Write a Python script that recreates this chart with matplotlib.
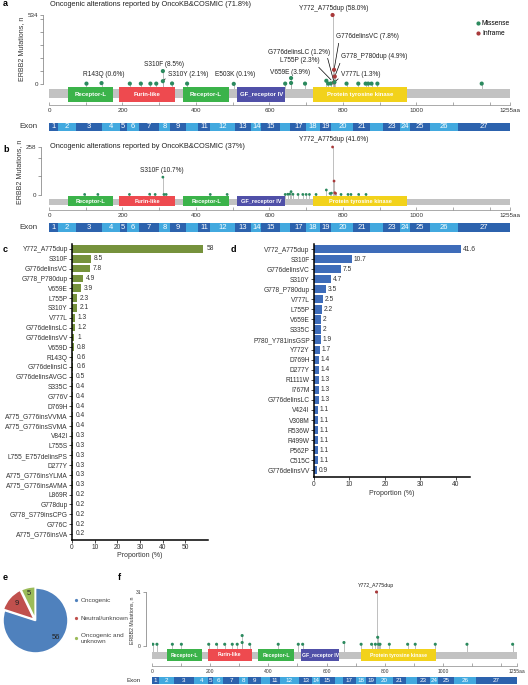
import numpy as np
import matplotlib
matplotlib.use("Agg")
import matplotlib.pyplot as plt
from matplotlib.lines import Line2D

plt.rcParams['font.family'] = ['Liberation Sans', 'DejaVu Sans']

W, H = 528, 685

# ---------------- data ----------------
domain_names = ['Receptor-L', 'Furin-like', 'Receptor-L', 'GF_receptor IV', 'Protein tyrosine kinase']
domain_start = [52, 191, 366, 513, 720]
domain_end = [173, 343, 489, 643, 975]
domain_colors = ['#3bb34a', '#ee4a4f', '#3bb34a', '#5050a8', '#f2d21b']

exon_bounds = [0, 25, 74, 145, 193, 211, 245, 300, 329, 374, 406, 439, 506, 551,
               578, 628, 656, 701, 737, 769, 828, 875, 910, 955, 984, 1037, 1114, 1255]
exon_labels = ['1', '2', '3', '4', '5', '6', '7', '8', '9', '', '11', '12', '13', '14',
               '15', '', '17', '18', '19', '20', '21', '', '23', '24', '25', '26', '27']

# panel a: position (aa), count, kind (M = missense, I = inframe)
a_pos = [102, 143, 220, 250, 276, 292, 310, 310, 335, 376, 503, 643, 659, 659, 697,
         755, 760, 767, 772, 776, 776, 777, 778, 810, 842, 862, 869, 878, 894, 1178]
a_cnt = [3, 7, 3, 3, 3, 3, 22, 100, 4, 3, 1, 3, 8, 46, 3,
         25, 3, 4, 534, 110, 13, 14, 58, 3, 3, 3, 3, 3, 3, 3]
a_kind = ['M'] * 18 + ['I', 'I', 'I', 'M', 'I'] + ['M'] * 7

# panel b
b_pos = [97, 133, 219, 274, 289, 310, 313, 319, 439, 485, 643, 650, 655, 659, 664, 678,
         691, 700, 709, 727, 755, 765, 769, 772, 776, 778, 780, 795, 814, 822, 843, 863]
b_cnt = [3, 3, 3, 4, 3, 96, 3, 3, 3, 3, 3, 4, 5, 18, 4, 3,
         3, 3, 3, 3, 27, 8, 10, 258, 75, 12, 9, 3, 3, 3, 3, 3]
b_kind = ['M'] * 23 + ['I', 'I', 'I', 'I'] + ['M'] * 5

# panel f
f_pos = [3, 17, 70, 101, 195, 222, 250, 276, 293, 310, 310, 336, 434, 503, 518,
         660, 719, 755, 768, 772, 776, 779, 784, 816, 879, 905, 974, 1083, 1240]
f_cnt = [1, 1, 1, 1, 1, 1, 1, 1, 1, 2, 6, 1, 1, 1, 1,
         2, 1, 1, 1, 31, 5, 1, 1, 1, 1, 1, 1, 1, 1]
f_kind = ['M'] * 19 + ['I', 'M'] + ['M'] * 8

c_names = ['Y772_A775dup', 'S310F', 'G776delinsVC', 'G778_P780dup', 'V659E', 'L755P',
           'S310Y', 'V777L', 'G776delinsLC', 'G776delinsVV', 'V659D', 'R143Q',
           'G776delinsIC', 'G776delinsAVGC', 'S335C', 'G776V', 'D769H',
           'A775_G776insVVMA', 'A775_G776insSVMA', 'V842I', 'L755S', 'L755_E757delinsPS',
           'D277Y', 'A775_G776insYLMA', 'A775_G776insAVMA', 'L869R', 'G778dup',
           'G778_S779insCPG', 'G776C', 'A775_G776insVA']
c_vals = [58, 8.5, 7.8, 4.9, 3.9, 2.3, 2.1, 1.3, 1.2, 1, 0.8, 0.6, 0.6, 0.5, 0.4, 0.4,
          0.4, 0.4, 0.4, 0.3, 0.3, 0.3, 0.3, 0.3, 0.3, 0.2, 0.2, 0.2, 0.2, 0.2]

d_names = ['V772_A775dup', 'S310F', 'G776delinsVC', 'S310Y', 'G778_P780dup', 'V777L',
           'L755P', 'V659E', 'S335C', 'P780_Y781insGSP', 'Y772Y', 'D769H', 'D277Y',
           'R1111W', 'I767M', 'G776delinsLC', 'V424I', 'V308M', 'R536W', 'R499W',
           'P562P', 'C515C', 'G776delinsVV']
d_vals = [41.6, 10.7, 7.5, 4.7, 3.5, 2.5, 2.2, 2, 2, 1.9, 1.7, 1.4, 1.4, 1.3, 1.3, 1.3,
          1.1, 1.1, 1.1, 1.1, 1.1, 1.1, 0.9]

e_labels = ['Oncogenic', 'Neutral/unknown', 'Oncogenic and\nunknown']
e_counts = [56, 9, 5]

MIS = '#2b8a5e'
INF = '#a8393a'
STEM = '#a5a5a5'
BACK = '#c2c2c2'
EX_DARK = '#2c62ad'
EX_LIGHT = '#42a9df'

fig = plt.figure(figsize=(W / 100, H / 100), dpi=100)


def px_ax(l, t, r, b):
    return fig.add_axes([l / W, 1 - b / H, (r - l) / W, (b - t) / H])


def lollipop(box, top_px, zero_px, ymax, bar, dom, pos, cnt, kind, dot, fs, out, tfs):
    l, t, r, b = box
    ax = px_ax(l, t, r, b)
    k = ymax / (zero_px - top_px)

    def cy(py):
        return (zero_px - py) * k

    def cx(px):
        return (px - l) / (r - l) * 1255

    ax.set_xlim(0, 1255)
    ax.set_ylim(cy(b), cy(t))
    ax.barh(cy(sum(bar) / 2), 1255, left=0, height=(bar[1] - bar[0]) * k,
            color=BACK, zorder=1)
    for name, s, e, c in zip(domain_names, domain_start, domain_end, domain_colors):
        ax.barh(cy(sum(dom) / 2), e - s, left=s, height=(dom[1] - dom[0]) * k,
                color=c, zorder=2)
        ax.text((s + e) / 2, cy(sum(dom) / 2), name, color='white', fontsize=fs,
                fontweight='bold', ha='center', va='center', zorder=3)
    cols = [MIS if kk == 'M' else INF for kk in kind]
    ax.vlines(pos, cy(bar[0]), cnt, color=STEM, lw=0.5, zorder=0)
    ax.scatter(pos, cnt, s=dot, c=cols, zorder=4, linewidths=0)

    for sp in ['top', 'right']:
        ax.spines[sp].set_visible(False)
    ax.spines['left'].set_position(('outward', out))
    ax.spines['left'].set_bounds(0, ymax)
    ax.spines['left'].set_color('#777')
    ax.spines['left'].set_linewidth(0.5)
    ax.set_yticks([0, ymax])
    ax.set_yticks(np.arange(100, ymax, 100 if ymax > 100 else 5), minor=True)
    ax.spines['bottom'].set_color('#888')
    ax.spines['bottom'].set_linewidth(0.5)
    xt = list(range(0, 1201, 100)) + [1255]
    ax.set_xticks(xt)
    ax.set_xticklabels([str(v) if v in (0, 200, 400, 600, 800, 1000) else
                        ('1255aa' if v == 1255 else '') for v in xt])
    ax.tick_params(axis='x', direction='in', length=2.5, width=0.5, pad=2,
                   labelsize=tfs, colors='#888', labelcolor='#333')
    ax.tick_params(axis='y', which='both', length=2, width=0.5, pad=1.5,
                   labelsize=tfs, colors='#777', labelcolor='#333')
    ax.set_facecolor('none')
    return ax, cx, cy


def exon_row(box, fs, lfs, off):
    ax = px_ax(*box)
    for i in range(len(exon_labels)):
        s, e = exon_bounds[i], exon_bounds[i + 1]
        ax.barh(0, e - s, left=s, height=1, color=EX_DARK if i % 2 == 0 else EX_LIGHT, lw=0)
        if exon_labels[i]:
            ax.text((s + e) / 2, 0, exon_labels[i], color='white', fontsize=fs,
                    ha='center', va='center')
    ax.set_xlim(0, 1255)
    ax.set_ylim(-0.5, 0.5)
    ax.axis('off')
    ax.annotate('Exon', xy=(0, 0.5), xycoords='axes fraction', xytext=(-off, 0),
                textcoords='offset points', ha='right', va='center', fontsize=lfs,
                color='#333')


# ---------------- panel a ----------------
fig.text(3 / W, 1 - 3 / H, 'a', fontsize=6.5, fontweight='bold', va='center')
fig.text(50 / W, 1 - 4 / H, 'Oncogenic alterations reported by OncoKB&COSMIC (71.8%)',
         fontsize=5.3, va='center', color='#222')
ax, cx, cy = lollipop((49, 10, 510, 105), 15, 84, 534, (89, 98), (87, 102),
                      a_pos, a_cnt, a_kind, 9, 4.3, 4, 4.5)
fig.text(22 / W, 1 - 49 / H, 'ERBB2 Mutations, n', rotation=90, fontsize=5,
         ha='center', va='center', color='#333')
lab = dict(fontsize=4.7, color='#222')
line = dict(arrowstyle='-', color='k', lw=0.5, shrinkA=0, shrinkB=1.5)
ax.text(cx(334), cy(8), 'Y772_A775dup (58.0%)', ha='center', va='center', **lab)
ax.text(cx(164), cy(64), 'S310F (8.5%)', ha='center', va='center', **lab)
ax.text(cx(104), cy(74), 'R143Q (0.6%)', ha='center', va='center', **lab)
ax.text(cx(235), cy(74), 'E503K (0.1%)', ha='center', va='center', **lab)
ax.text(cx(290), cy(72), 'V659E (3.9%)', ha='center', va='center', **lab)
ax.annotate('S310Y (2.1%)', xy=(310, 22), xytext=(cx(168), cy(74)), ha='left',
            va='center', arrowprops=dict(relpos=(0, 0.2), **line), **lab)
ax.annotate('G776delinsVC (7.8%)', xy=(776, 110), xytext=(cx(336), cy(37)), ha='left',
            va='center', arrowprops=dict(relpos=(0.05, 0), **line), **lab)
ax.annotate('G776delinsLC (1.2%)', xy=(776, 13), xytext=(cx(330), cy(52)), ha='right',
            va='center', arrowprops=dict(relpos=(0.95, 0), **line), **lab)
ax.annotate('L755P (2.3%)', xy=(772, 20), xytext=(cx(320), cy(61)), ha='right',
            va='center', arrowprops=dict(relpos=(0.9, 0), **line), **lab)
ax.annotate('G778_P780dup (4.9%)', xy=(778, 58), xytext=(cx(341), cy(57)), ha='left',
            va='center', arrowprops=dict(relpos=(0, 0), **line), **lab)
ax.annotate('V777L (1.3%)', xy=(777, 14), xytext=(cx(341), cy(75)), ha='left',
            va='center', arrowprops=dict(relpos=(0, 0.3), **line), **lab)
handles = [Line2D([], [], marker='o', ls='', color=MIS, ms=2),
           Line2D([], [], marker='o', ls='', color=INF, ms=2)]
fig.legend(handles, ['Missense', 'Inframe'], loc='upper left',
           bbox_to_anchor=(476 / W, 1 - 20 / H), frameon=False, fontsize=4.8,
           handlelength=0.6, handletextpad=0.3, labelspacing=0.5, borderpad=0,
           borderaxespad=0)
exon_row((49, 123, 510, 131), 5.5, 5.8, 8)

# ---------------- panel b ----------------
fig.text(3 / W, 1 - 150 / H, 'b', fontsize=6.5, fontweight='bold', va='center')
fig.text(50 / W, 1 - 147 / H, 'Oncogenic alterations reported by OncoKB&COSMIC (37%)',
         fontsize=5.3, va='center', color='#222')
ax, cx, cy = lollipop((49, 141, 510, 210), 147, 195, 258, (199, 204.5), (196, 206),
                      b_pos, b_cnt, b_kind, 4, 4.1, 6, 4.5)
fig.text(20 / W, 1 - 172 / H, 'ERBB2 Mutations, n', rotation=90, fontsize=5,
         ha='center', va='center', color='#333')
ax.text(cx(334), cy(139), 'Y772_A775dup (41.6%)', ha='center', va='center', **lab)
ax.text(cx(162), cy(170), 'S310F (10.7%)', ha='center', va='center', **lab)
exon_row((49, 223, 510, 232), 5.5, 5.8, 8)

# ---------------- panel c ----------------
fig.text(3 / W, 1 - 250 / H, 'c', fontsize=6.5, fontweight='bold', va='center')
ax = px_ax(72, 244, 208, 540)
yc = np.arange(len(c_names))
ax.barh(yc, c_vals, height=0.78, color='#76923c')
for yi, v in zip(yc, c_vals):
    ax.text(v + 1.3, yi, f'{v:g}', va='center', fontsize=4.8, color='#333')
ax.set_ylim(len(c_names) - 1 + 0.62, -0.5)
ax.set_xlim(0, 60)
ax.set_yticks(yc)
ax.set_yticklabels(c_names)
ax.set_xticks(range(0, 51, 10))
ax.set_xlabel('Proportion (%)', fontsize=5, labelpad=0.5, color='#333')

# ---------------- panel d ----------------
fig.text(231 / W, 1 - 250 / H, 'd', fontsize=6.5, fontweight='bold', va='center')
ax2 = px_ax(314, 244, 470, 477)
yd = np.arange(len(d_names))
ax2.barh(yd, d_vals, height=0.82, color='#3e6cb9')
for yi, v in zip(yd, d_vals):
    ax2.text(v + 0.5, yi, f'{v:g}', va='center', fontsize=4.8, color='#333')
ax2.set_ylim(len(d_names) - 1 + 0.66, -0.5)
ax2.set_xlim(0, 44)
ax2.set_yticks(yd)
ax2.set_yticklabels(d_names)
ax2.set_xticks(range(0, 41, 10))
ax2.set_xlabel('Proportion (%)', fontsize=5, labelpad=1.5, color='#333')

for a_ in (ax, ax2):
    for sp in ['top', 'right']:
        a_.spines[sp].set_visible(False)
    for sp in ['left', 'bottom']:
        a_.spines[sp].set_linewidth(1.1)
    a_.tick_params(length=2, width=0.5, pad=1, labelsize=4.8, labelcolor='#333')

# ---------------- panel e ----------------
fig.text(3 / W, 1 - 578 / H, 'e', fontsize=6.5, fontweight='bold', va='center')
ax = px_ax(1, 586, 70, 655)
pie_cols = ['#4f81bd', '#c0504d', '#9bbb59']
ax.pie(e_counts, colors=pie_cols, startangle=90, counterclock=False,
       explode=[0, 0.05, 0.04], wedgeprops=dict(edgecolor='white', linewidth=1.2))
ax.set_xlim(-1.06, 1.06)
ax.set_ylim(-1.06, 1.06)
ax.set_aspect('equal')
for val, ang, rr in zip(e_counts, [-40, 139, 103], [0.82, 0.78, 0.84]):
    ax.text(rr * np.cos(np.radians(ang)), rr * np.sin(np.radians(ang)), str(val),
            ha='center', va='center', fontsize=5.5, color='#222')
handles = [Line2D([], [], marker='o', ls='', color=c, ms=1.3) for c in pie_cols]
fig.legend(handles, e_labels, loc='upper left', bbox_to_anchor=(75 / W, 1 - 598 / H),
           frameon=False, fontsize=4.6, handlelength=0.4, handletextpad=0.5,
           labelspacing=1.9, borderpad=0, borderaxespad=0, labelcolor='#444')

# ---------------- panel f ----------------
fig.text(118 / W, 1 - 578 / H, 'f', fontsize=6.5, fontweight='bold', va='center')
ax, cx, cy = lollipop((152, 588, 517, 666), 592, 646, 31, (652, 659), (649, 661),
                      f_pos, f_cnt, f_kind, 5, 3.7, 4.5, 3.6)
fig.text(132 / W, 1 - 620 / H, 'ERBB2 Mutations, n', rotation=90, fontsize=3.8,
         ha='center', va='center', color='#333')
ax.text(cx(376), cy(586), 'Y772_A775dup', ha='center', va='center', fontsize=3.8,
        color='#222')
exon_row((152, 677, 517, 684), 4.5, 4.5, 8)

fig.savefig('out.png', dpi=100)
